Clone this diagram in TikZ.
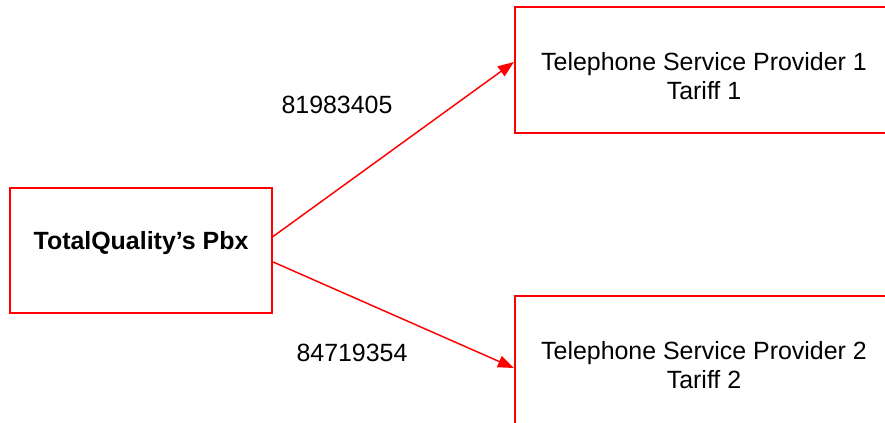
\documentclass[tikz,border=0pt]{standalone}
\usepackage{fontspec}
\setmainfont{Liberation Sans}
\usetikzlibrary{arrows.meta}
\definecolor{boxred}{RGB}{255,0,0}
\begin{document}
\begin{tikzpicture}[x=0.75pt,y=-0.75pt,
  box/.style={draw=boxred,line width=1.6pt,rectangle,inner sep=0pt},
  txt/.style={font=\fontsize{18.7pt}{21.75pt}\selectfont,align=center,inner sep=0pt},
  link/.style={draw=boxred,line width=1.1pt,-{Triangle[length=12pt,width=9pt]}}]
\useasboundingbox (0,0) rectangle (885,422);
\clip (0,0) rectangle (885,422);
% boxes
\node[box,minimum width=196.5pt,minimum height=93.75pt] (pbx) at (141,250.5) {};
\node[box,minimum width=283.5pt,minimum height=94.5pt] (tsp1) at (704,70) {};
\node[box,minimum width=283.5pt,minimum height=108pt] (tsp2) at (704,368) {};
% box texts
\node[txt,font=\fontsize{18.7pt}{21.75pt}\selectfont\bfseries] (pbxlabel) at (141,243) {TotalQuality’s Pbx};
\node[txt] (tsp1label) at (704,76) {Telephone Service Provider 1\\Tariff 1};
\node[txt] (tsp2label) at (704,365) {Telephone Service Provider 2\\Tariff 2};
% connectors
\draw[link] ([yshift=10.5pt]pbx.east) -- ([yshift=6pt]tsp1.west);
\draw[link] ([yshift=-8.6pt]pbx.east) -- (tsp2.west);
% numbers
\node[txt] (num1) at (337,105) {81983405};
\node[txt] (num2) at (352,353) {84719354};
\end{tikzpicture}
\end{document}
